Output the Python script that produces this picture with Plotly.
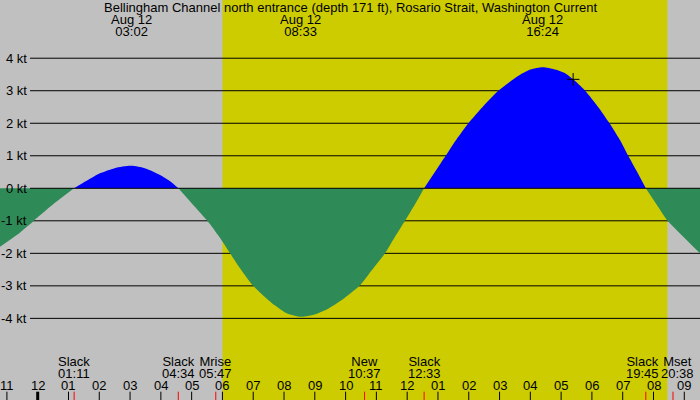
import plotly.graph_objects as go

# Tidal current curve (hours after midnight Aug 12, knots)
curve_hours = [-1.224, -0.68, -0.14, 0.40, 0.72, 1.18,
               1.59, 2.02, 2.50, 3.03, 3.50, 3.97, 4.30, 4.57,
               5.00, 5.51, 5.90, 6.25, 6.60, 7.00, 7.70, 8.10, 8.55, 9.00, 9.40, 9.90,
               10.45, 10.85, 11.28, 11.60, 11.93, 12.25, 12.55,
               12.90, 13.25, 13.60, 13.99, 14.45, 14.96, 15.60, 16.00, 16.40, 16.80,
               17.10, 17.39, 17.78, 18.20, 18.57, 18.90, 19.18, 19.47, 19.75,
               20.10, 20.46, 21.00, 21.51]
curve_kt = [-1.80, -1.44, -1.01, -0.57, -0.33, 0.0,
            0.23, 0.46, 0.62, 0.69, 0.61, 0.41, 0.22, 0.0,
            -0.46, -1.0, -1.5, -2.0, -2.5, -3.0, -3.6, -3.85, -3.95, -3.88, -3.72, -3.42,
            -3.0, -2.52, -2.0, -1.5, -1.0, -0.5, 0.0,
            0.5, 1.0, 1.5, 2.0, 2.5, 3.0, 3.45, 3.65, 3.72, 3.65,
            3.55, 3.35, 3.0, 2.5, 2.0, 1.5, 1.0, 0.5, 0.0,
            -0.5, -1.0, -1.52, -2.0]

kt_levels = [-4, -3, -2, -1, 0, 1, 2, 3, 4]

tick_hours = list(range(-1, 22))
tick_labels = ["11", "12", "01", "02", "03", "04", "05", "06", "07", "08", "09", "10",
               "11", "12", "01", "02", "03", "04", "05", "06", "07", "08", "09"]

sunrise, sunset = 6.0, 20.45
now_hour, now_kt = 17.39, 3.35

top_names = ["Aug 12", "Aug 12", "Aug 12"]
top_times = ["03:02", "08:33", "16:24"]
bottom_names = ["Slack", "Slack", "Mrise", "New", "Slack", "Slack", "Mset"]
bottom_times = ["01:11", "04:34", "05:47", "10:37", "12:33", "19:45", "20:38"]

TITLE = "Bellingham Channel north entrance (depth 171 ft), Rosario Strait, Washington Current"

W, H = 700, 400
X0_PX, PX_PER_H = 37.7, 30.79
x_range = [-X0_PX / PX_PER_H, (W - X0_PX) / PX_PER_H]
y_range = [-6.51, 5.79]

FONT = "Liberation Sans"
FS = 13
GRAY = "#c0c0c0"
YELLOW = "#cccc00"
BLUE = "#0000ff"
GREEN = "#2e8b57"

# labels that sit too close get pushed apart (pixels)
label_nudge = {"19:45": -3, "20:38": 4.5}


def to_hours(t):
    h, m = t.split(":")
    return int(h) + int(m) / 60.0


def py(px):
    # pixel row -> paper y
    return 1 - px / H


fig = go.Figure()

# split the curve into runs of one sign (zero points belong to both sides)
segments = []
cur = [0]
for i in range(1, len(curve_kt)):
    cur.append(i)
    if curve_kt[i] == 0:
        segments.append(cur)
        cur = [i]
segments.append(cur)

for seg in segments:
    xs = [curve_hours[i] for i in seg]
    ys = [curve_kt[i] for i in seg]
    positive = sum(ys) > 0
    fig.add_trace(go.Scatter(
        x=xs, y=ys, mode="lines", line=dict(width=0, shape="spline", smoothing=0.7),
        fill="tozeroy", fillcolor=BLUE if positive else GREEN,
        hoverinfo="skip", showlegend=False))

fig.add_trace(go.Scatter(
    x=[now_hour], y=[now_kt], mode="markers",
    marker=dict(symbol="cross-thin", size=9, line=dict(color="black", width=1)),
    hoverinfo="skip", showlegend=False))

shapes = [dict(type="rect", xref="x", yref="paper", x0=sunrise, x1=sunset, y0=0, y1=1,
               fillcolor=YELLOW, line=dict(width=0), layer="below")]
for k in kt_levels:
    shapes.append(dict(type="line", xref="paper", yref="y", x0=30 / W, x1=1, y0=k, y1=k,
                       line=dict(color="black", width=1), layer="above" if k == 0 else "below"))

for h in tick_hours:
    shapes.append(dict(type="line", xref="x", yref="paper", x0=h, x1=h, y0=0, y1=8.3 / H,
                       line=dict(color="black", width=3 if h % 24 == 0 else 1)))
for t in bottom_times:
    h = to_hours(t)
    shapes.append(dict(type="line", xref="x", yref="paper", x0=h, x1=h, y0=0, y1=8.3 / H,
                       line=dict(color="red", width=1)))

annotations = []


def label(text, x, yc, xref="x", xanchor="center", xshift=0):
    annotations.append(dict(text=text, x=x, y=py(yc), xref=xref, yref="paper",
                            xanchor=xanchor, yanchor="middle", showarrow=False, xshift=xshift,
                            font=dict(family=FONT, size=FS, color="black")))


def two_line(a, b, x, yc, xshift=0):
    # tight line spacing like the reference: small base font, full-size spans
    span = '<span style="font-size:%dpx">%s</span>'
    annotations.append(dict(text=span % (FS, a) + "<br>" + span % (FS, b),
                            x=x, y=py(yc), xref="x", yref="paper", xshift=xshift,
                            xanchor="center", yanchor="middle", showarrow=False,
                            font=dict(family=FONT, size=9, color="black")))


label(TITLE, 0.5, 7.5, xref="paper")
for n, t in zip(top_names, top_times):
    two_line(n, t, to_hours(t), 25.4)
for n, t in zip(bottom_names, bottom_times):
    two_line(n, t, to_hours(t), 367.5, xshift=label_nudge.get(t, 0))
for h, s in zip(tick_hours, tick_labels):
    label(s, h, 385.5)

y_px_per_kt = H / (y_range[1] - y_range[0])
for k in kt_levels:
    yc = (y_range[1] - k) * y_px_per_kt
    label(f"{k} kt", 28.5 / W, yc, xref="paper", xanchor="right")

fig.update_layout(
    width=W, height=H, margin=dict(l=0, r=0, t=0, b=0),
    plot_bgcolor=GRAY, paper_bgcolor=GRAY,
    xaxis=dict(range=x_range, visible=False, fixedrange=True),
    yaxis=dict(range=y_range, visible=False, fixedrange=True),
    shapes=shapes, annotations=annotations,
)

fig.write_html("out.html", config={"displayModeBar": False},
               post_script="document.body.style.margin='0';")
